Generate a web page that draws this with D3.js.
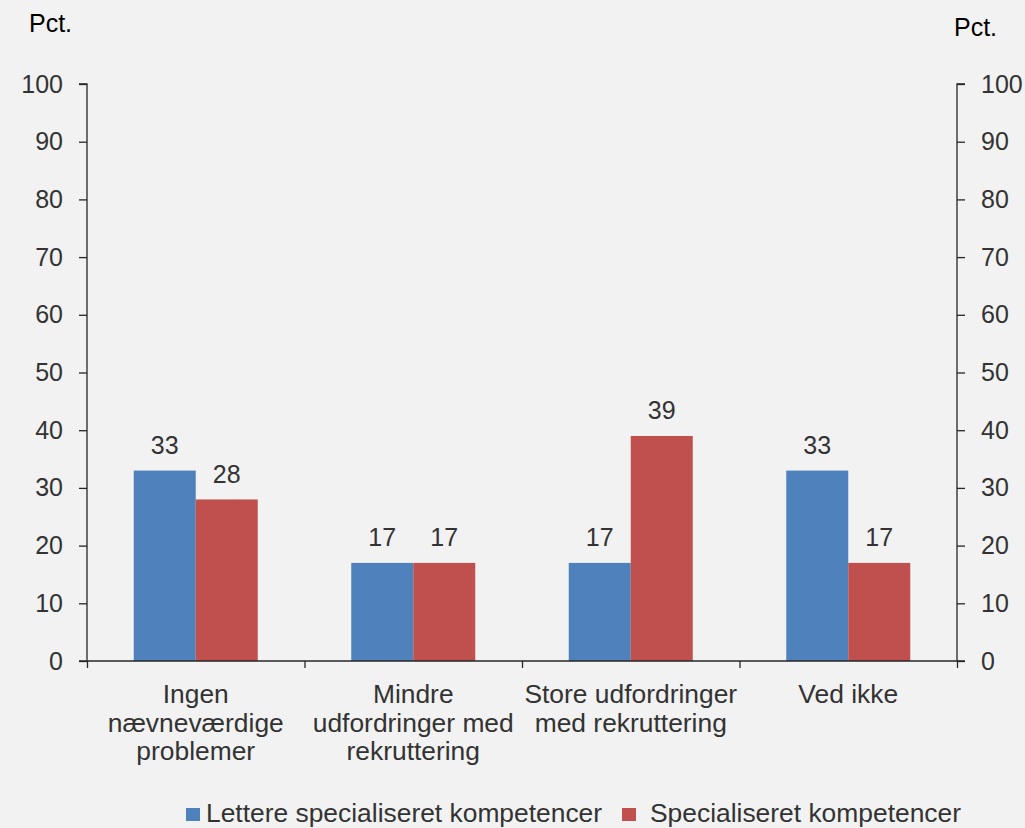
<!DOCTYPE html>
<html><head><meta charset="utf-8">
<script src="https://cdn.jsdelivr.net/npm/d3@7"></script>
<style>body{margin:0;background:#f2f2f2;} svg{display:block;}</style>
</head><body>
<script>
const categories = [["Ingen","nævneværdige","problemer"],["Mindre","udfordringer med","rekruttering"],["Store udfordringer","med rekruttering"],["Ved ikke"]];
const seriesNames = ["Lettere specialiseret kompetencer","Specialiseret kompetencer"];
const lettere = [33,17,17,33];
const specialiseret = [28,17,39,17];
const yTicks = [0,10,20,30,40,50,60,70,80,90,100];
const colors = ["#4F81BD","#C0504D"];

(function(){
const W=1025,H=828;
const svg=d3.select("body").append("svg").attr("width",W).attr("height",H);
svg.append("rect").attr("width",W).attr("height",H).attr("fill","#f2f2f2");
const font="Liberation Sans, Arial, sans-serif";
const txt="#333";
const fs=25, fsL=26.4;
const pL=87,pR=957,pT=84,pB=661;
const y=d3.scaleLinear().domain([0,100]).range([pB,pT]);
const x0=d3.scaleBand().domain(d3.range(categories.length)).range([pL,pR]).paddingInner(0).paddingOuter(0);
const x1=d3.scaleBand().domain([0,1]).range([0,124]);
const barOff=(x0.bandwidth()-124)/2;

const yl=d3.axisLeft(y).tickValues(yTicks).tickSize(8).tickPadding(16);
const yr=d3.axisRight(y).tickValues(yTicks).tickSize(8).tickPadding(16);
const gl=svg.append("g").attr("transform",`translate(${pL},0)`).call(yl);
const gr=svg.append("g").attr("transform",`translate(${pR},0)`).call(yr);
[gl,gr].forEach(g=>{
  g.select(".domain").attr("stroke","#262626").attr("stroke-width",1.3).attr("d", g===gl?`M-8,${pT}H0V${pB}`:`M8,${pT}H0V${pB}`);
  g.selectAll(".tick line").attr("stroke","#262626").attr("stroke-width",1.3);
  g.selectAll(".tick text").attr("font-family",font).attr("font-size",fs).attr("fill",txt);
});
const data=[lettere,specialiseret];
data.forEach((vals,s)=>{
  svg.append("g").selectAll("rect").data(vals).join("rect")
    .attr("x",(d,i)=>x0(i)+barOff+x1(s)).attr("width",x1.bandwidth())
    .attr("y",d=>y(d)).attr("height",d=>pB-y(d)).attr("fill",colors[s]);
  svg.append("g").selectAll("text").data(vals).join("text")
    .attr("x",(d,i)=>x0(i)+barOff+x1(s)+x1.bandwidth()/2).attr("y",d=>y(d)-16.5)
    .attr("text-anchor","middle").attr("font-family",font).attr("font-size",fs).attr("fill",txt).text(d=>d);
});
const xa=d3.axisBottom(d3.scaleLinear().domain([0,4]).range([pL,pR])).tickValues([0,1,2,3,4]).tickSize(7).tickFormat("");
const gx=svg.append("g").attr("transform",`translate(0,${pB})`).call(xa);
gx.select(".domain").attr("stroke","#262626").attr("stroke-width",1.3).attr("d",`M${pL-8},0H${pR+8}`);
gx.selectAll(".tick line").attr("stroke","#262626").attr("stroke-width",1.3);
categories.forEach((lines,i)=>{
  const cx=x0(i)+x0.bandwidth()/2;
  const t=svg.append("text").attr("x",cx).attr("y",703).attr("text-anchor","middle")
    .attr("font-family",font).attr("font-size",fsL).attr("fill",txt);
  lines.forEach((l,j)=>t.append("tspan").attr("x",cx).attr("dy",j?28.7:0).text(l));
});
svg.append("text").attr("x",29).attr("y",32).attr("font-family",font).attr("font-size",fs).attr("fill","#000").text("Pct.");
svg.append("text").attr("x",954).attr("y",36).attr("font-family",font).attr("font-size",fs).attr("fill","#000").text("Pct.");
const leg=[{x:186,tx:206},{x:622,tx:650}];
seriesNames.forEach((n,s)=>{
  svg.append("rect").attr("x",leg[s].x).attr("y",808).attr("width",14).attr("height",13).attr("fill",colors[s]);
  svg.append("text").attr("x",leg[s].tx).attr("y",822).attr("font-family",font).attr("font-size",fsL).attr("fill",txt).text(n);
});
})();
</script>
</body></html>
